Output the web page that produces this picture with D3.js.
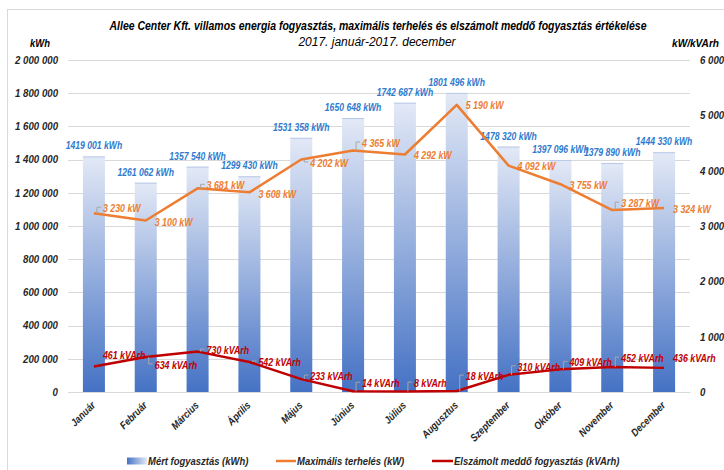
<!DOCTYPE html>
<html><head><meta charset="utf-8">
<script src="https://cdn.jsdelivr.net/npm/d3@7"></script>
<style>
html,body{margin:0;padding:0;background:#fff;}
svg text{font-family:"Liberation Sans",Arial,sans-serif;font-style:italic;}
</style></head>
<body><svg id="c" width="724" height="470"></svg>
<script>
const months = ["Január","Február","Március","Április","Május","Június","Július","Augusztus","Szeptember","Október","November","December"];
const consumption = [1419001,1261062,1357540,1299430,1531358,1650648,1742687,1801496,1478320,1397096,1379890,1444330];
const maxLoad = [3230,3100,3681,3608,4202,4365,4292,5190,4092,3755,3287,3324];
const reactive = [461,634,730,542,233,14,8,18,310,409,452,436];
const leftTicks = [0,200000,400000,600000,800000,1000000,1200000,1400000,1600000,1800000,2000000];
const rightTicks = [0,1000,2000,3000,4000,5000,6000];
const seriesNames = ["Mért fogyasztás (kWh)","Maximális terhelés (kW)","Elszámolt meddő fogyasztás (kVArh)"];

// label nudges (layout only)
const loadLabelDy = [-5,1.5,-3,1.5,3.5,-7.5,0.5,1,1,1,-7,1];
const loadLeader  = [1,0,1,0,1,1,0,0,0,0,1,0];
const reacLabelDy = [-11.5,8,-1.5,0,-3,-8,-8.5,-15,-8,-7,-9,-10];
const reacLeader  = [0,1,1,1,1,1,1,1,1,1,1,0];

const svg = d3.select("#c");
const L=68,R=690,T=60,B=392;

svg.append("rect").attr("x",7.5).attr("y",9.5).attr("width",740).attr("height",480)
  .attr("fill","none").attr("stroke","#d9d9d9");

const x = d3.scaleBand().domain(months).range([L,R]).paddingInner(0.575).paddingOuter(0.2875);
const yL = d3.scaleLinear().domain([0,2000000]).range([B,T]);
const yR = d3.scaleLinear().domain([0,6000]).range([B,T]);
const cx = m => x(m)+x.bandwidth()/2;

const sp = v => d3.format(",")(v).replace(/,/g," ");
const barFmt = v => { const s=String(v); return s.slice(0,-3)+" "+s.slice(-3); };

const defs = svg.append("defs");
const g1 = defs.append("linearGradient").attr("id","bg").attr("x1",0).attr("y1",0).attr("x2",0).attr("y2",1);
g1.append("stop").attr("offset","0%").attr("stop-color","#e3e9f6");
g1.append("stop").attr("offset","100%").attr("stop-color","#4572c4");
const g2 = defs.append("linearGradient").attr("id","lg").attr("x1",0).attr("y1",0).attr("x2",1).attr("y2",0);
g2.append("stop").attr("offset","0%").attr("stop-color","#4572c4");
g2.append("stop").attr("offset","100%").attr("stop-color","#e3e9f6");

// gridlines
svg.append("g").selectAll("line").data(leftTicks).join("line")
  .attr("x1",L).attr("x2",R).attr("y1",d=>Math.round(yL(d))+0.5).attr("y2",d=>Math.round(yL(d))+0.5)
  .attr("stroke","#d9d9d9").attr("stroke-width",1);

// left axis
const axL = svg.append("g").attr("transform",`translate(${L},0)`)
  .call(d3.axisLeft(yL).tickValues(leftTicks).tickFormat(sp).tickSize(0).tickPadding(10));
axL.select(".domain").remove();
axL.selectAll("text").attr("font-size",10.5).attr("font-weight","bold").attr("fill","#262626").attr("font-family",null).attr("data-k",0.92);

// right axis
const axR = svg.append("g").attr("transform",`translate(${R},0)`)
  .call(d3.axisRight(yR).tickValues(rightTicks).tickFormat(sp).tickSize(0).tickPadding(10));
axR.select(".domain").remove();
axR.selectAll("text").attr("font-size",10.5).attr("font-weight","bold").attr("fill","#262626").attr("font-family",null).attr("data-k",0.92);

// bottom axis
const axB = svg.append("g").attr("transform",`translate(0,${B})`)
  .call(d3.axisBottom(x).tickSize(0).tickPadding(0));
axB.select(".domain").attr("stroke","#d9d9d9");
axB.selectAll("text").attr("font-size",10.5).attr("font-weight","bold").attr("fill","#262626").attr("font-family",null)
  .attr("text-anchor","end").attr("dy",null).attr("y",0)
  .attr("transform","translate(2,14) rotate(-45)");

// bars
svg.append("g").selectAll("rect").data(consumption).join("rect")
  .attr("x",(d,i)=>x(months[i])).attr("width",x.bandwidth())
  .attr("y",d=>yL(d)).attr("height",d=>B-yL(d)).attr("fill","url(#bg)");
svg.append("g").selectAll("line").data(consumption).join("line")
  .attr("x1",(d,i)=>x(months[i])).attr("x2",(d,i)=>x(months[i])+x.bandwidth())
  .attr("y1",d=>yL(d)+0.5).attr("y2",d=>yL(d)+0.5).attr("stroke","#b8c8e8").attr("stroke-width",1);

// bar labels
svg.append("g").selectAll("text").data(consumption).join("text")
  .attr("x",(d,i)=>cx(months[i])).attr("y",d=>yL(d)-7)
  .attr("text-anchor","middle").attr("font-size",10.5).attr("font-weight","bold").attr("fill","#2e7bcf")
  .attr("data-k",0.82)
  .text(d=>barFmt(d)+" kWh");

// lines
const line = d3.line().x((d,i)=>cx(months[i])).y(d=>yR(d));
svg.append("path").datum(maxLoad).attr("d",line).attr("fill","none").attr("stroke","#ed7d31").attr("stroke-width",2.5).attr("stroke-linejoin","round");
svg.append("path").datum(reactive).attr("d",line).attr("fill","none").attr("stroke","#c00000").attr("stroke-width",2.5).attr("stroke-linejoin","round");

function labels(vals, dys, leaders, fmt, color){
  const g = svg.append("g");
  vals.forEach((v,i)=>{
    const px = cx(months[i]), py = yR(v);
    const lx = px+9, ly = py+dys[i];
    if(leaders[i]){
      g.append("path").attr("d",`M${lx-6},${py}V${ly-1}H${lx-2}`)
        .attr("fill","none").attr("stroke","#a6a6a6").attr("stroke-width",1);
    }
    g.append("text").attr("x",lx).attr("y",ly).attr("dy","0.35em")
      .attr("font-size",10.5).attr("font-weight","bold").attr("fill",color).attr("data-k",0.84).text(fmt(v));
  });
}
labels(maxLoad, loadLabelDy, loadLeader, v=>sp(v)+" kW", "#ed7d31");
labels(reactive, reacLabelDy, reacLeader, v=>sp(v)+" kVArh", "#c00000");

// titles
svg.append("text").attr("x",378).attr("y",30).attr("text-anchor","middle")
  .attr("font-size",12.5).attr("font-weight","bold").attr("fill","#000").attr("data-w",537)
  .text("Allee Center Kft. villamos energia fogyasztás, maximális terhelés és elszámolt meddő fogyasztás értékelése");
svg.append("text").attr("x",377).attr("y",46).attr("text-anchor","middle")
  .attr("font-size",12).attr("fill","#000").attr("data-k",1).text("2017. január-2017. december");
svg.append("text").attr("x",40).attr("y",47).attr("text-anchor","middle")
  .attr("font-size",11.5).attr("font-weight","bold").attr("fill","#000").attr("data-k",0.82).text("kWh");
svg.append("text").attr("x",672).attr("y",47).attr("text-anchor","start")
  .attr("font-size",11.5).attr("font-weight","bold").attr("fill","#000").attr("data-k",0.88).text("kW/kVArh");

// legend
const lg = svg.append("g");
const LY = 461;
lg.append("rect").attr("x",127).attr("y",LY-3.5).attr("width",20).attr("height",7).attr("fill","url(#lg)");
lg.append("text").attr("x",148).attr("y",LY).attr("dy","0.35em").attr("font-size",11).attr("font-weight","bold").attr("fill","#262626").text(seriesNames[0]);
lg.append("line").attr("x1",276).attr("x2",296).attr("y1",LY).attr("y2",LY).attr("stroke","#ed7d31").attr("stroke-width",2.5);
lg.append("text").attr("x",297).attr("y",LY).attr("dy","0.35em").attr("font-size",11).attr("font-weight","bold").attr("fill","#262626").text(seriesNames[1]);
lg.append("line").attr("x1",432).attr("x2",453).attr("y1",LY).attr("y2",LY).attr("stroke","#c00000").attr("stroke-width",2.5);
lg.append("text").attr("x",454).attr("y",LY).attr("dy","0.35em").attr("font-size",11).attr("font-weight","bold").attr("fill","#262626").text(seriesNames[2]);

// condense text to mimic the narrower original typeface
svg.selectAll("text").each(function(){
  const w = this.getAttribute("data-w");
  if (w) { d3.select(this).attr("textLength", +w).attr("lengthAdjust","spacingAndGlyphs"); return; }
  const k = +(this.getAttribute("data-k") || 0.86);
  if (k === 1) return;
  const n = this.getComputedTextLength();
  if (n > 0) d3.select(this).attr("textLength", n*k).attr("lengthAdjust","spacingAndGlyphs");
});
</script></body></html>
